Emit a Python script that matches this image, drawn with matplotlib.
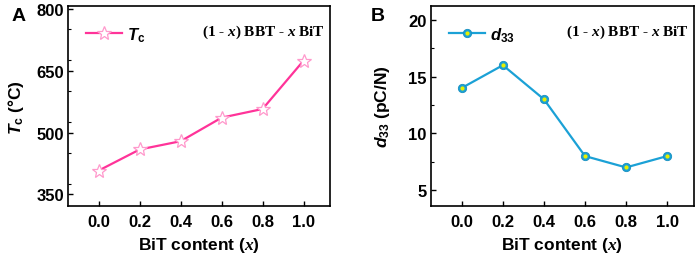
import matplotlib
matplotlib.use("Agg")
import matplotlib.pyplot as plt
from matplotlib.legend_handler import HandlerTuple
from matplotlib.ticker import MultipleLocator

plt.rcParams["font.family"] = ["Liberation Sans", "DejaVu Sans"]
plt.rcParams["font.weight"] = "bold"
plt.rcParams["mathtext.fontset"] = "custom"
plt.rcParams["mathtext.it"] = "Liberation Sans:italic:bold"
plt.rcParams["mathtext.rm"] = "Liberation Sans:bold"
plt.rcParams["mathtext.bf"] = "Liberation Sans:bold"
plt.rcParams["mathtext.sf"] = "Liberation Serif:italic:bold"

# data
bit_content = [0.0, 0.2, 0.4, 0.6, 0.8, 1.0]
tc_values = [408, 459, 479, 536, 557, 674]
d33_values = [14, 16, 13, 8, 7, 8]
x_ticks = [0.0, 0.2, 0.4, 0.6, 0.8, 1.0]

pink = "#ff3399"
star_edge = "#ff99cc"
blue = "#1ba1d6"
yellow = "#e8f000"

fig = plt.figure(figsize=(6.99, 2.55), dpi=100)
ax1 = fig.add_axes([0.0973, 0.188, 0.375, 0.784])
ax2 = fig.add_axes([0.6166, 0.188, 0.376, 0.784])


def style_axes(ax):
    for s in ax.spines.values():
        s.set_linewidth(1.2)
    ax.tick_params(axis="both", which="major", direction="in", length=3.5,
                   width=1, labelsize=12, pad=3)
    ax.tick_params(axis="x", which="major", pad=6)
    ax.tick_params(axis="both", which="minor", direction="in", length=2, width=0.8)
    ax.tick_params(axis="x", which="minor", bottom=False)
    ax.set_xlim(-0.15, 1.13)
    ax.set_xticks(x_ticks)
    ax.set_xticklabels([f"{v:.1f}" for v in x_ticks])
    ax.set_xlabel(r"BiT content ($\mathsf{x}$)", fontsize=12.5, fontweight="bold", labelpad=4)
    ax.text(0.98, 0.875, r"(1 - $\mathsf{x}$) BBT - $\mathsf{x}$ BiT",
            transform=ax.transAxes, ha="right", va="center",
            family="Liberation Serif", fontweight="bold", fontsize=11)


# panel A
style_axes(ax1)
ax1.plot(bit_content, tc_values, color=pink, lw=1.6, marker="*", ms=10,
         mfc="white", mec=star_edge, mew=0.9, label=r"$T_\mathrm{c}$")
ax1.set_ylim(322, 806)
ax1.yaxis.set_minor_locator(MultipleLocator(75))
ax1.set_yticks([350, 500, 650, 800])
ax1.set_ylabel(r"$T_\mathrm{c}$ (°C)", fontsize=12.5, fontweight="bold", labelpad=7)
ax1.legend(loc="upper left", bbox_to_anchor=(0.01, 0.98), frameon=False,
           handlelength=2.2, handletextpad=0.3, fontsize=12)
fig.text(0.017, 0.935, "A", fontsize=14, fontweight="bold", va="center")

# panel B
style_axes(ax2)
line, = ax2.plot(bit_content, d33_values, color=blue, lw=1.6, marker="o", ms=6,
                 mfc=blue, mec="#1790c0", mew=0.6)
dots, = ax2.plot(bit_content, d33_values, ls="none", marker="o", ms=2, mfc=yellow, mec=yellow)
ax2.set_ylim(3.6, 21.2)
ax2.yaxis.set_minor_locator(MultipleLocator(2.5))
ax2.set_yticks([5, 10, 15, 20])
ax2.set_ylabel(r"$d_\mathrm{33}$ (pC/N)", fontsize=12.5, fontweight="bold", labelpad=12)
ax2.legend([(line, dots)], [r"$d_\mathrm{33}$"], handler_map={tuple: HandlerTuple(ndivide=1)},
           loc="upper left", bbox_to_anchor=(0.01, 0.98), frameon=False,
           handlelength=2.2, handletextpad=0.3, fontsize=12)
fig.text(0.531, 0.935, "B", fontsize=14, fontweight="bold", va="center")

fig.savefig("out.png", dpi=100)
